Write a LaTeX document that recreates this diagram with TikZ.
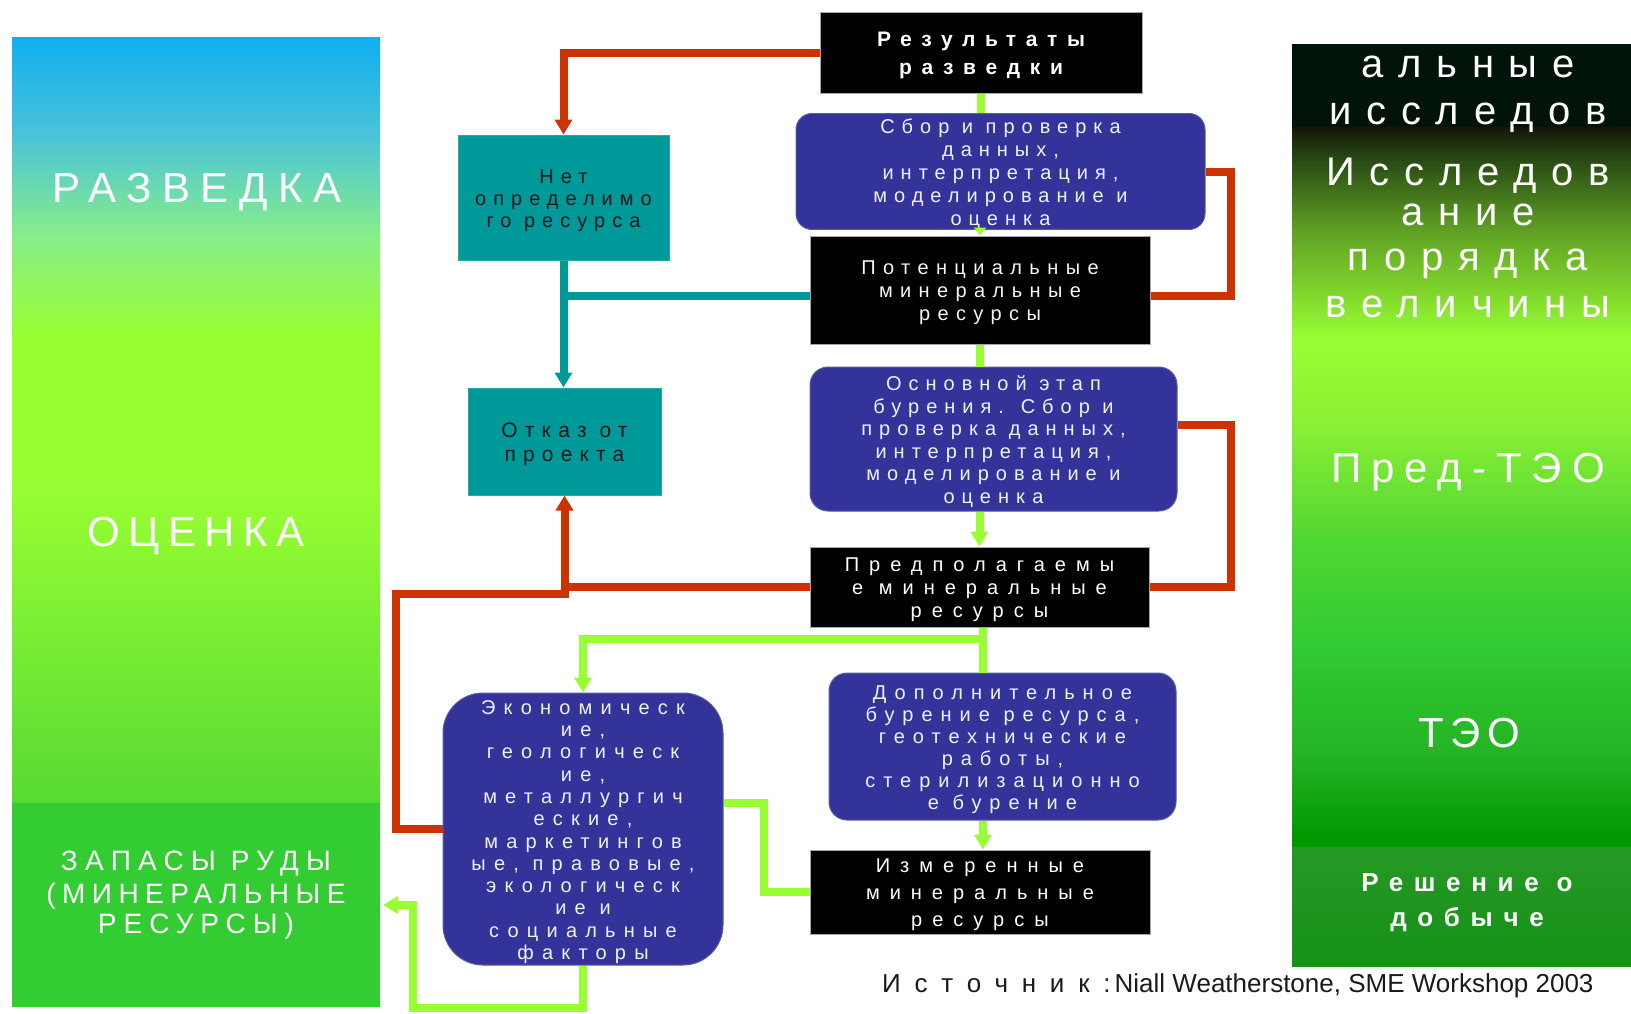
\documentclass[tikz,border=0pt]{standalone}
\usepackage{fontspec}
\setmainfont{Liberation Sans}
\usetikzlibrary{arrows.meta}
\definecolor{lg1}{RGB}{14,175,240}
\definecolor{lg2}{RGB}{76,196,216}
\definecolor{lg3}{RGB}{136,238,136}
\definecolor{lg4}{RGB}{153,255,51}
\definecolor{lg5}{RGB}{88,218,51}
\definecolor{lbot}{RGB}{51,204,51}
\definecolor{rg1}{RGB}{20,22,8}
\definecolor{rg2}{RGB}{40,75,20}
\definecolor{rg3}{RGB}{95,160,35}
\definecolor{rg4}{RGB}{153,255,51}
\definecolor{rg5}{RGB}{140,240,51}
\definecolor{rg6}{RGB}{80,215,51}
\definecolor{rg7}{RGB}{51,204,51}
\definecolor{rg8}{RGB}{35,178,35}
\definecolor{rg9}{RGB}{0,153,0}
\definecolor{rdark}{RGB}{2,20,10}
\definecolor{rb1}{RGB}{37,153,37}
\definecolor{rb2}{RGB}{22,145,22}
\definecolor{lred}{RGB}{204,51,0}
\definecolor{lteal}{RGB}{0,153,153}
\definecolor{lgreen}{RGB}{153,255,51}
\definecolor{bbox}{RGB}{51,51,153}
\definecolor{bboxedge}{RGB}{90,90,170}
\definecolor{btext}{RGB}{240,240,255}
\definecolor{tbox}{RGB}{0,153,153}
\definecolor{tboxedge}{RGB}{40,170,170}
\definecolor{ttext}{RGB}{20,25,25}
\definecolor{srctext}{RGB}{26,26,26}
\pgfdeclareverticalshading{leftgrad}{100bp}{color(0bp)=(lg5); color(25bp)=(lg5); color(46.08bp)=(lg4); color(55.42bp)=(lg4); color(61.95bp)=(lg3); color(68.47bp)=(lg2); color(75bp)=(lg1); color(100bp)=(lg1)}
\pgfdeclareverticalshading{rightgrad}{100bp}{color(0bp)=(rg9); color(25.83bp)=(rg9); color(31.04bp)=(rg8); color(39.38bp)=(rg7); color(46.32bp)=(rg6); color(54.65bp)=(rg5); color(60.21bp)=(rg4); color(67.85bp)=(rg3); color(72.71bp)=(rg2); color(75bp)=(rg1); color(100bp)=(rg1)}
\newcommand\bxfont[3]{\fontsize{#1}{#3}\selectfont\addfontfeatures{LetterSpace=#2}}
\newcommand\tp{\rule{0pt}{1em}}
\begin{document}
\begin{tikzpicture}[x=1pt,y=-1pt,
  redline/.style={draw=lred, line width=8pt},
  tealline/.style={draw=lteal, line width=8pt},
  greenline/.style={draw=lgreen, line width=8pt},
  tip/.style={-{Triangle[width=17pt,length=15pt]}},
  blackbox/.style={fill=black, draw=gray!70, line width=1pt, text=white, inner sep=0pt, align=center},
  bluebox/.style={fill=bbox, draw=bboxedge, line width=1pt, rounded corners=16pt, text=btext, inner sep=0pt, align=center},
  tealbox/.style={fill=tbox, draw=tboxedge, line width=1pt, text=ttext, inner sep=0pt, align=center},
  paneltext/.style={text=white, inner sep=0pt, anchor=base}]
\useasboundingbox (0,0) rectangle (1631,1013);
% panels
\shade[shading=leftgrad] (12,37) rectangle (380,803);
\fill[lbot] (12,803) rectangle (380,1007);
\fill[rdark] (1292,44) rectangle (1631,127);
\shade[shading=rightgrad] (1292,127) rectangle (1631,847);
\shade[top color=rb1, bottom color=rb2] (1292,847) rectangle (1631,966);
% panel texts
\node[paneltext, font=\bxfont{42}{25}{42}] (razv) at (197,202) {РАЗВЕДКА};
\node[paneltext, font=\bxfont{42}{20}{42}] (ocen) at (196,546) {ОЦЕНКА};
\node[paneltext, font=\bxfont{28}{26}{28}] (zap1) at (196,870) {ЗАПАСЫ РУДЫ};
\node[paneltext, font=\bxfont{28}{23}{28}] (zap2) at (196,903) {(МИНЕРАЛЬНЫЕ};
\node[paneltext, font=\bxfont{28}{25}{28}] (zap3) at (196,933) {РЕСУРСЫ)};
\node[paneltext, font=\bxfont{40}{37}{40}] (rt1) at (1468,77) {альные};
\node[paneltext, font=\bxfont{40}{37}{40}] (rt2) at (1468,124) {исследов};
\node[paneltext, font=\bxfont{40}{37}{40}] (rt3) at (1468,185) {Исследов};
\node[paneltext, font=\bxfont{40}{37}{40}] (rt4) at (1468,225) {ание};
\node[paneltext, font=\bxfont{40}{37}{40}] (rt5) at (1468,270) {порядка};
\node[paneltext, font=\bxfont{40}{37}{40}] (rt6) at (1468,317) {величины};
\node[paneltext, font=\bxfont{42}{24}{42}] (pteo) at (1468,482) {Пред-ТЭО};
\node[paneltext, font=\bxfont{42}{16}{42}] (teo) at (1469,747) {ТЭО};
\node[paneltext, font=\bfseries\bxfont{26}{41}{26}] (resh1) at (1467,891) {Решение о};
\node[paneltext, font=\bfseries\bxfont{26}{41}{26}] (resh2) at (1467,926) {добыче};
% boxes
\node[blackbox, minimum width=322pt, minimum height=81pt, font=\bfseries\bxfont{21}{46}{28}] (res) at (981,52.5) {\tp Результаты\\разведки};
\node[bluebox, minimum width=409pt, minimum height=113pt, font=\bxfont{20}{35}{23}] (sbor) at (1000.5,171.5) {\tp Сбор и проверка\\данных,\\интерпретация,\\моделирование и\\оценка};
\node[blackbox, minimum width=340pt, minimum height=108pt, text=gray!8, font=\bxfont{20}{37}{23}] (pot) at (980,290) {\tp Потенциальные\\минеральные\\ресурсы};
\node[tealbox, minimum width=211pt, minimum height=125pt, font=\bxfont{20}{35}{22}] (net) at (563.5,197.5) {\tp Нет\\определимо\\го ресурса};
\node[tealbox, minimum width=193pt, minimum height=107pt, font=\bxfont{21}{34}{24}] (otkaz) at (564.5,441.5) {\tp Отказ от\\проекта};
\node[bluebox, rounded corners=18pt, minimum width=367pt, minimum height=144pt, font=\bxfont{20}{35}{22.6}] (osn) at (993.5,439) {\tp Основной этап\\бурения. Сбор и\\проверка данных,\\интерпретация,\\моделирование и\\оценка};
\node[blackbox, minimum width=339pt, minimum height=80pt, font=\bxfont{20}{50}{23}] (predp) at (979.5,587) {\tp Предполагаемы\\е минеральные\\ресурсы};
\node[bluebox, rounded corners=18pt, minimum width=347pt, minimum height=147pt, font=\bxfont{20}{40}{22}] (dop) at (1002.5,746.5) {\tp Дополнительное\\бурение ресурса,\\геотехнические\\работы,\\стерилизационно\\е бурение};
\node[blackbox, minimum width=340pt, minimum height=84pt, font=\bxfont{20}{50}{27}] (izm) at (980,892) {\tp Измеренные\\минеральные\\ресурсы};
\node[bluebox, rounded corners=40pt, minimum width=280pt, minimum height=272pt, font=\bxfont{20}{41}{22.3}] (econ) at (583,829) {\tp Экономическ\\ие,\\геологическ\\ие,\\металлургич\\еские,\\маркетингов\\ые, правовые,\\экологическ\\ие и\\социальные\\факторы};
% connectors
\coordinate (rA) at (1231,425);
\coordinate (rB) at (396,594);
\coordinate (gA) at (983,639);
\coordinate (gB) at (764,803);
\coordinate (gC) at (413,1008);
\coordinate (gD) at (383,905);
\draw[redline,tip] (res.west) -| (net.north);
\draw[greenline] (res.south) -- (res.south |- sbor.north);
\draw[greenline,-{Triangle[width=12pt,length=8pt]}] (pot.north |- sbor.south) -- (pot.north);
\draw[tealline,tip] (net.south) -- (net.south |- otkaz.north);
\draw[tealline] ([yshift=-6pt]pot.west) -- ([yshift=-6pt]pot.west -| net.south);
\draw[redline] ([yshift=-6pt]pot.east) -| (rA |- sbor.east) -- (sbor.east);
\draw[greenline] (pot.south) -- (pot.south |- osn.north);
\draw[greenline,tip] (predp.north |- osn.south) -- (predp.north);
\draw[redline] (predp.east) -| (rA) -- (rA -| osn.east);
\draw[redline,tip] (econ.west) -| (rB) -| (otkaz.south);
\draw[redline] (predp.west) -- (predp.west -| otkaz.south);
\draw[greenline,tip] (predp.south -| gA) -- (gA) -| (econ.north);
\draw[greenline] (gA) -- (gA |- dop.north);
\draw[greenline,tip] (dop.south -| gA) -- (izm.north -| gA);
\draw[greenline] (econ.east |- gB) -- (gB) |- (izm.west);
\draw[greenline,tip] (econ.south) |- (gC) |- (gD);
% source
\node[anchor=base west, inner sep=0pt, text=srctext, font=\fontsize{26}{26}\selectfont] (src) at (882,992) {{\addfontfeatures{LetterSpace=53}Источник:}\kern4pt Niall Weatherstone, SME Workshop 2003};
\end{tikzpicture}
\end{document}
